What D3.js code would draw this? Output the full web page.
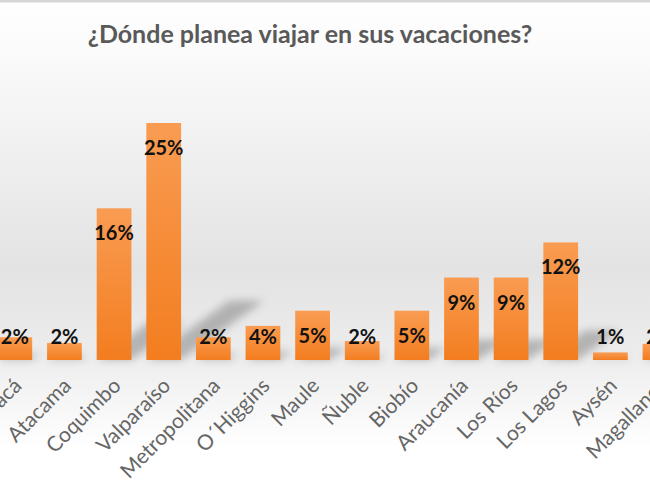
<!DOCTYPE html>
<html><head><meta charset="utf-8">
<script src="https://cdn.jsdelivr.net/npm/d3@7"></script>
<style>
html,body{margin:0;padding:0;background:#fff;overflow:hidden}
svg{display:block}
</style></head>
<body>
<script>
const title = "¿Dónde planea viajar en sus vacaciones?";
const categories = ["Tarapacá","Atacama","Coquimbo","Valparaíso","Metropolitana","O´Higgins","Maule","Ñuble","Biobío","Araucanía","Los Ríos","Los Lagos","Aysén","Magallanes"];
const values = [2.4, 1.8, 16, 25, 2.4, 3.6, 5.2, 2.0, 5.2, 8.7, 8.7, 12.4, 0.8, 1.7];
const valueLabels = ["2%","2%","16%","25%","2%","4%","5%","2%","5%","9%","9%","12%","1%","2%"];

const W = 650, H = 487;
const svg = d3.select("body").append("svg").attr("width", W).attr("height", H);
const defs = svg.append("defs");

const bg = defs.append("linearGradient").attr("id","bg").attr("x1",0).attr("y1",0).attr("x2",0).attr("y2",1);
bg.append("stop").attr("offset","0").attr("stop-color","#ffffff");
bg.append("stop").attr("offset","0.1").attr("stop-color","#fbfbfb");
bg.append("stop").attr("offset","0.55").attr("stop-color","#e3e3e3");
bg.append("stop").attr("offset","0.72").attr("stop-color","#ececec");
bg.append("stop").attr("offset","0.92").attr("stop-color","#ffffff");
bg.append("stop").attr("offset","1").attr("stop-color","#ffffff");

const barG = defs.append("linearGradient").attr("id","barg").attr("x1",0).attr("y1",0).attr("x2",0).attr("y2",1);
barG.append("stop").attr("offset","0").attr("stop-color","#f99c52");
barG.append("stop").attr("offset","1").attr("stop-color","#f37d1f");

const blur = defs.append("filter").attr("id","blur").attr("x","-50%").attr("y","-50%").attr("width","200%").attr("height","200%");
blur.append("feGaussianBlur").attr("stdDeviation",4);

svg.append("rect").attr("width",W).attr("height",H).attr("fill","url(#bg)");
svg.append("rect").attr("width",W).attr("height",2.5).attr("fill","#d6d6d6");

const x = d3.scaleBand().domain(categories).range([-10, 684.8]).paddingInner(0.3).paddingOuter(0.15);
const y = d3.scaleLinear().domain([0, 25]).range([360, 123]);

const data = categories.map((c,i)=>({c, v:values[i], l:valueLabels[i]}));

// perspective shadows
svg.append("g").attr("filter","url(#blur)").selectAll("path").data(data).join("path")
  .attr("d", d => {
    const x0 = x(d.c), x1 = x0 + x.bandwidth(), b = y(0), h = y(0) - y(d.v);
    const dx = 0.35*h, dy = 0.25*h;
    return `M${x0},${b}L${x1},${b}L${x1+dx},${b-dy}L${x0+dx},${b-dy}Z`;
  })
  .attr("fill","#000").attr("opacity",0.24);

svg.append("g").selectAll("rect").data(data).join("rect")
  .attr("x", d => x(d.c)).attr("width", x.bandwidth())
  .attr("y", d => y(d.v)).attr("height", d => y(0) - y(d.v))
  .attr("fill","url(#barg)");

svg.append("g").selectAll("text").data(data).join("text")
  .attr("x", d => x(d.c) + x.bandwidth()/2)
  .attr("y", d => Math.min(y(d.v) + 25, 337))
  .attr("dy","0.35em")
  .attr("text-anchor","middle")
  .attr("font-family","Lato, 'Open Sans', sans-serif")
  .attr("font-weight","bold").attr("font-size",20).attr("fill","#111")
  .text(d => d.l);

const axis = d3.axisBottom(x).tickSize(0).tickPadding(0);
const ag = svg.append("g").attr("transform","translate(0,360)").call(axis);
ag.select(".domain").remove();
ag.selectAll(".tick text")
  .attr("font-family","Lato, 'Open Sans', sans-serif")
  .attr("font-size",21).attr("fill","#666")
  .attr("text-anchor","end")
  .attr("dy",0).attr("y",0)
  .attr("transform","translate(8,27) rotate(-45)");

svg.append("text").attr("x",310).attr("y",34).attr("dy","0.35em")
  .attr("text-anchor","middle")
  .attr("font-family","Lato, 'Open Sans', sans-serif")
  .attr("font-weight","bold").attr("font-size",25).attr("fill","#595959")
  .text(title);
</script>
</body></html>
